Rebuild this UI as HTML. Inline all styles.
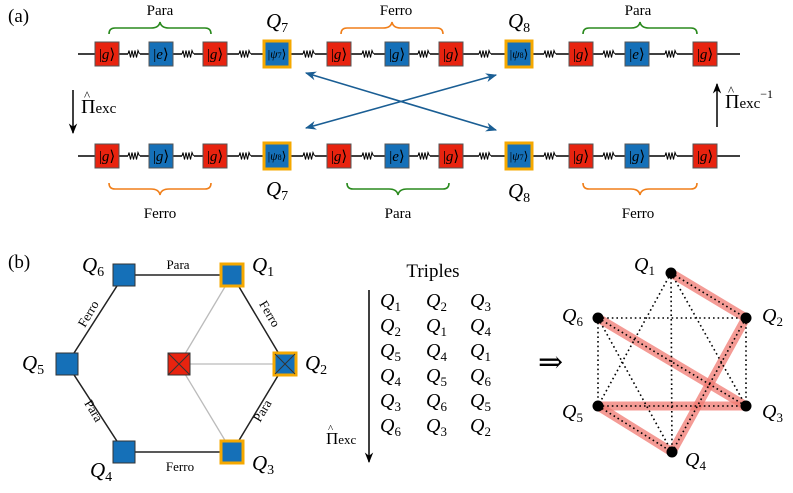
<!DOCTYPE html>
<html><head><meta charset="utf-8"><style>
body{margin:0;background:#fff}
svg{display:block}
svg text{font-family:"Liberation Serif","DejaVu Serif",serif;fill:#000}
.it{font-style:italic}
</style></head><body>
<svg width="793" height="493" viewBox="0 0 793 493" xmlns="http://www.w3.org/2000/svg" font-family="Liberation Serif, serif">
<defs>
<marker id="ab" viewBox="0 0 10 10" refX="9" refY="5" markerWidth="7" markerHeight="7" orient="auto-start-reverse"><path d="M0,1 L10,5 L0,9 L3,5z" fill="#1a5e94"/></marker>
<marker id="ak" viewBox="0 0 10 10" refX="9" refY="5" markerWidth="7" markerHeight="7" orient="auto"><path d="M0,1 L10,5 L0,9 L3,5z" fill="#000"/></marker>
<g id="spr"><rect x="-6" y="-2" width="12" height="4" fill="#fff"/><polyline points="-6,0 -5,-3.5 -3.5,3.5 -2,-3.5 -0.5,3.5 1,-3.5 2.5,3.5 4,-3.5 5.5,0" fill="none" stroke="#000" stroke-width="1"/></g>
</defs>
<text x="8" y="22" font-size="19">(a)</text>
<text x="8" y="268" font-size="19">(b)</text>

<line x1="78" y1="54" x2="740" y2="54" stroke="#000" stroke-width="1.5"/>
<line x1="78" y1="156" x2="740" y2="156" stroke="#000" stroke-width="1.5"/>
<g>
<use href="#spr" x="134" y="54"/><use href="#spr" x="188" y="54"/><use href="#spr" x="245" y="54"/><use href="#spr" x="309" y="54"/><use href="#spr" x="368" y="54"/><use href="#spr" x="424" y="54"/><use href="#spr" x="485" y="54"/><use href="#spr" x="550" y="54"/><use href="#spr" x="609" y="54"/><use href="#spr" x="671" y="54"/>
<use href="#spr" x="134" y="156"/><use href="#spr" x="188" y="156"/><use href="#spr" x="245" y="156"/><use href="#spr" x="309" y="156"/><use href="#spr" x="368" y="156"/><use href="#spr" x="424" y="156"/><use href="#spr" x="485" y="156"/><use href="#spr" x="550" y="156"/><use href="#spr" x="609" y="156"/><use href="#spr" x="671" y="156"/>
</g>
<g stroke="#555" stroke-width="1">
<rect x="95" y="42" width="24" height="24" fill="#e8230f"/>
<rect x="149" y="42" width="24" height="24" fill="#1570b8"/>
<rect x="203" y="42" width="24" height="24" fill="#e8230f"/>
<rect x="264" y="41" width="26" height="26" fill="#1570b8" stroke="#f5a800" stroke-width="3"/>
<rect x="327" y="42" width="24" height="24" fill="#e8230f"/>
<rect x="385" y="42" width="24" height="24" fill="#1570b8"/>
<rect x="439" y="42" width="24" height="24" fill="#e8230f"/>
<rect x="506" y="41" width="26" height="26" fill="#1570b8" stroke="#f5a800" stroke-width="3"/>
<rect x="569" y="42" width="24" height="24" fill="#e8230f"/>
<rect x="625" y="42" width="24" height="24" fill="#1570b8"/>
<rect x="693" y="42" width="24" height="24" fill="#e8230f"/>
<rect x="95" y="144" width="24" height="24" fill="#e8230f"/>
<rect x="149" y="144" width="24" height="24" fill="#1570b8"/>
<rect x="203" y="144" width="24" height="24" fill="#e8230f"/>
<rect x="264" y="143" width="26" height="26" fill="#1570b8" stroke="#f5a800" stroke-width="3"/>
<rect x="327" y="144" width="24" height="24" fill="#e8230f"/>
<rect x="385" y="144" width="24" height="24" fill="#1570b8"/>
<rect x="439" y="144" width="24" height="24" fill="#e8230f"/>
<rect x="506" y="143" width="26" height="26" fill="#1570b8" stroke="#f5a800" stroke-width="3"/>
<rect x="569" y="144" width="24" height="24" fill="#e8230f"/>
<rect x="625" y="144" width="24" height="24" fill="#1570b8"/>
<rect x="693" y="144" width="24" height="24" fill="#e8230f"/>
</g>
<g font-size="15" text-anchor="middle">
<text x="107" y="59">|<tspan class="it">g</tspan>⟩</text><text x="161" y="59">|<tspan class="it">e</tspan>⟩</text><text x="215" y="59">|<tspan class="it">g</tspan>⟩</text>
<text x="277" y="58" font-size="12">|<tspan class="it">ψ</tspan><tspan font-size="8">7</tspan>⟩</text>
<text x="339" y="59">|<tspan class="it">g</tspan>⟩</text><text x="397" y="59">|<tspan class="it">g</tspan>⟩</text><text x="451" y="59">|<tspan class="it">g</tspan>⟩</text>
<text x="519" y="58" font-size="12">|<tspan class="it">ψ</tspan><tspan font-size="8">8</tspan>⟩</text>
<text x="581" y="59">|<tspan class="it">g</tspan>⟩</text><text x="637" y="59">|<tspan class="it">e</tspan>⟩</text><text x="705" y="59">|<tspan class="it">g</tspan>⟩</text>
<text x="107" y="161">|<tspan class="it">g</tspan>⟩</text><text x="161" y="161">|<tspan class="it">g</tspan>⟩</text><text x="215" y="161">|<tspan class="it">g</tspan>⟩</text>
<text x="277" y="160" font-size="12">|<tspan class="it">ψ</tspan><tspan font-size="8">8</tspan>⟩</text>
<text x="339" y="161">|<tspan class="it">g</tspan>⟩</text><text x="397" y="161">|<tspan class="it">e</tspan>⟩</text><text x="451" y="161">|<tspan class="it">g</tspan>⟩</text>
<text x="519" y="160" font-size="12">|<tspan class="it">ψ</tspan><tspan font-size="8">7</tspan>⟩</text>
<text x="581" y="161">|<tspan class="it">g</tspan>⟩</text><text x="637" y="161">|<tspan class="it">g</tspan>⟩</text><text x="705" y="161">|<tspan class="it">g</tspan>⟩</text>
</g>
<g fill="none" stroke-width="1.6">
<path d="M109,34 q0,-6 6,-6 h36 q8,0 9,-6 q1,6 9,6 h36 q6,0 6,6" stroke="#2a8a1e"/>
<path d="M341,34 q0,-6 6,-6 h36 q8,0 9,-6 q1,6 9,6 h36 q6,0 6,6" stroke="#f07f1a"/>
<path d="M583,34 q0,-6 6,-6 h42 q8,0 9,-6 q1,6 9,6 h42 q6,0 6,6" stroke="#2a8a1e"/>
<path d="M109,183 q0,6 6,6 h36 q8,0 9,6 q1,-6 9,-6 h36 q6,0 6,-6" stroke="#f07f1a"/>
<path d="M347,183 q0,6 6,6 h36 q8,0 9,6 q1,-6 9,-6 h36 q6,0 6,-6" stroke="#2a8a1e"/>
<path d="M583,183 q0,6 6,6 h42 q8,0 9,6 q1,-6 9,-6 h42 q6,0 6,-6" stroke="#f07f1a"/>
</g>
<g font-size="15" text-anchor="middle">
<text x="160" y="15">Para</text><text x="396" y="15">Ferro</text><text x="638" y="15">Para</text>
<text x="160" y="218">Ferro</text><text x="398" y="218">Para</text><text x="638" y="218">Ferro</text>
</g>
<g font-size="21" class="it">
<text x="266" y="28">Q<tspan font-size="14" font-style="normal" dy="4">7</tspan></text>
<text x="508" y="28">Q<tspan font-size="14" font-style="normal" dy="4">8</tspan></text>
<text x="266" y="196">Q<tspan font-size="14" font-style="normal" dy="4">7</tspan></text>
<text x="508" y="198">Q<tspan font-size="14" font-style="normal" dy="4">8</tspan></text>
</g>
<line x1="306" y1="73" x2="496" y2="130" stroke="#1a5e94" stroke-width="1.6" marker-start="url(#ab)" marker-end="url(#ab)"/>
<line x1="306" y1="128" x2="496" y2="75" stroke="#1a5e94" stroke-width="1.6" marker-start="url(#ab)" marker-end="url(#ab)"/>

<line x1="73" y1="90" x2="73" y2="133" stroke="#000" stroke-width="1.5" marker-end="url(#ak)"/>
<text x="81" y="113" font-size="20">Π<tspan font-size="15">exc</tspan></text>
<text x="84" y="100" font-size="13">^</text>
<line x1="717" y1="127" x2="717" y2="84" stroke="#000" stroke-width="1.5" marker-end="url(#ak)"/>
<text x="725" y="108" font-size="20">Π<tspan font-size="15">exc</tspan><tspan font-size="12" dy="-10">−1</tspan></text>
<text x="728" y="95" font-size="13">^</text>

<g stroke="#bbb" stroke-width="1.3"><line x1="179" y1="364" x2="232" y2="275"/><line x1="179" y1="364" x2="285" y2="364"/><line x1="179" y1="364" x2="232" y2="452"/></g>
<polygon points="124,275 232,275 285,364 232,452 124,452 67,364" fill="none" stroke="#222" stroke-width="1.5"/>
<g stroke="#333" stroke-width="1">
<rect x="113" y="264" width="22" height="22" fill="#1570b8"/>
<rect x="56" y="353" width="22" height="22" fill="#1570b8"/>
<rect x="113" y="441" width="22" height="22" fill="#1570b8"/>
<rect x="221" y="264" width="22" height="22" fill="#1570b8" stroke="#f5a800" stroke-width="3"/>
<rect x="274" y="353" width="22" height="22" fill="#1570b8" stroke="#f5a800" stroke-width="3"/>
<rect x="221" y="441" width="22" height="22" fill="#1570b8" stroke="#f5a800" stroke-width="3"/>
<rect x="168" y="353" width="22" height="22" fill="#e8230f"/>
<path d="M168,353 L190,375 M190,353 L168,375" />
<path d="M275,354 L295,374 M295,354 L275,374" />
</g>
<g font-size="13" text-anchor="middle">
<text x="178" y="269">Para</text><text x="180" y="471">Ferro</text>
<text transform="translate(92,316) rotate(-59)">Ferro</text>
<text transform="translate(266,316) rotate(59)">Ferro</text>
<text transform="translate(90,413) rotate(59)">Para</text>
<text transform="translate(266,413) rotate(-59)">Para</text>
</g>
<g font-size="21" class="it">
<text x="82" y="272">Q<tspan font-size="14" font-style="normal" dy="4">6</tspan></text>
<text x="252" y="272">Q<tspan font-size="14" font-style="normal" dy="4">1</tspan></text>
<text x="305" y="370">Q<tspan font-size="14" font-style="normal" dy="4">2</tspan></text>
<text x="252" y="470">Q<tspan font-size="14" font-style="normal" dy="4">3</tspan></text>
<text x="90" y="477">Q<tspan font-size="14" font-style="normal" dy="4">4</tspan></text>
<text x="22" y="370">Q<tspan font-size="14" font-style="normal" dy="4">5</tspan></text>
</g>

<text x="433" y="277" font-size="19" text-anchor="middle">Triples</text>
<line x1="369" y1="290" x2="369" y2="462" stroke="#000" stroke-width="1.5" marker-end="url(#ak)"/>
<text x="326" y="444" font-size="17">Π<tspan font-size="13">exc</tspan></text>
<text x="328" y="432" font-size="11">^</text>
<g font-size="20" class="it">
<text x="380" y="307">Q<tspan font-size="13" font-style="normal" dy="4">1</tspan></text><text x="426" y="307">Q<tspan font-size="13" font-style="normal" dy="4">2</tspan></text><text x="470" y="307">Q<tspan font-size="13" font-style="normal" dy="4">3</tspan></text>
<text x="380" y="332">Q<tspan font-size="13" font-style="normal" dy="4">2</tspan></text><text x="426" y="332">Q<tspan font-size="13" font-style="normal" dy="4">1</tspan></text><text x="470" y="332">Q<tspan font-size="13" font-style="normal" dy="4">4</tspan></text>
<text x="380" y="357">Q<tspan font-size="13" font-style="normal" dy="4">5</tspan></text><text x="426" y="357">Q<tspan font-size="13" font-style="normal" dy="4">4</tspan></text><text x="470" y="357">Q<tspan font-size="13" font-style="normal" dy="4">1</tspan></text>
<text x="380" y="382">Q<tspan font-size="13" font-style="normal" dy="4">4</tspan></text><text x="426" y="382">Q<tspan font-size="13" font-style="normal" dy="4">5</tspan></text><text x="470" y="382">Q<tspan font-size="13" font-style="normal" dy="4">6</tspan></text>
<text x="380" y="407">Q<tspan font-size="13" font-style="normal" dy="4">3</tspan></text><text x="426" y="407">Q<tspan font-size="13" font-style="normal" dy="4">6</tspan></text><text x="470" y="407">Q<tspan font-size="13" font-style="normal" dy="4">5</tspan></text>
<text x="380" y="432">Q<tspan font-size="13" font-style="normal" dy="4">6</tspan></text><text x="426" y="432">Q<tspan font-size="13" font-style="normal" dy="4">3</tspan></text><text x="470" y="432">Q<tspan font-size="13" font-style="normal" dy="4">2</tspan></text>
</g>
<text x="538" y="372" font-size="30">⇒</text>

<g stroke="#f07a72" stroke-opacity="0.75" stroke-width="9" stroke-linecap="round">
<line x1="671" y1="273" x2="746" y2="318"/><line x1="598" y1="318" x2="746" y2="406"/>
<line x1="598" y1="406" x2="746" y2="406"/><line x1="598" y1="406" x2="672" y2="452"/>
<line x1="672" y1="452" x2="746" y2="318"/>
</g>
<g stroke="#000" stroke-width="1.6" stroke-dasharray="1.6,3">
<line x1="671" y1="273" x2="746" y2="318"/><line x1="671" y1="273" x2="746" y2="406"/><line x1="671" y1="273" x2="672" y2="452"/><line x1="671" y1="273" x2="598" y2="406"/>
<line x1="598" y1="318" x2="746" y2="318"/><line x1="598" y1="318" x2="746" y2="406"/><line x1="598" y1="318" x2="598" y2="406"/><line x1="598" y1="318" x2="672" y2="452"/>
<line x1="746" y1="318" x2="746" y2="406"/><line x1="746" y1="318" x2="672" y2="452"/>
<line x1="598" y1="406" x2="746" y2="406"/><line x1="598" y1="406" x2="672" y2="452"/>
</g>
<g fill="#000"><circle cx="671" cy="273" r="5.5"/><circle cx="746" cy="318" r="5.5"/><circle cx="746" cy="406" r="5.5"/><circle cx="672" cy="452" r="5.5"/><circle cx="598" cy="406" r="5.5"/><circle cx="598" cy="318" r="5.5"/></g>
<g font-size="20" class="it">
<text x="634" y="271">Q<tspan font-size="13" font-style="normal" dy="4">1</tspan></text>
<text x="762" y="322">Q<tspan font-size="13" font-style="normal" dy="4">2</tspan></text>
<text x="762" y="418">Q<tspan font-size="13" font-style="normal" dy="4">3</tspan></text>
<text x="685" y="466">Q<tspan font-size="13" font-style="normal" dy="4">4</tspan></text>
<text x="562" y="418">Q<tspan font-size="13" font-style="normal" dy="4">5</tspan></text>
<text x="562" y="322">Q<tspan font-size="13" font-style="normal" dy="4">6</tspan></text>
</g>
</svg>
</body></html>
